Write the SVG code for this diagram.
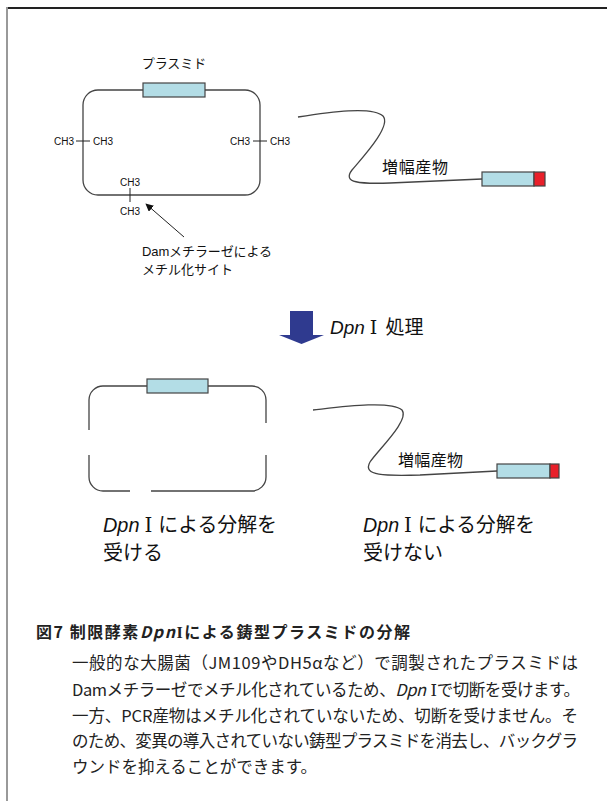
<svg xmlns="http://www.w3.org/2000/svg" width="607" height="801" viewBox="0 0 607 801">
<defs>
<style>
.t{font-family:"Liberation Sans","Noto Sans CJK JP",sans-serif;fill:#111}
.ch{font-size:10px}
.wire{fill:none;stroke:#444;stroke-width:1.3}
.ins{fill:#b3dde6;stroke:#444;stroke-width:1.2}
.red{fill:#e8202a;stroke:#444;stroke-width:1.2}
.body{font-family:"Noto Sans CJK JP","Liberation Sans",sans-serif;font-size:16.5px;fill:#222}
.rn{font-family:"DejaVu Serif","Liberation Serif",serif;font-style:normal}
</style>
<marker id="ah" viewBox="0 0 10 10" refX="9" refY="5" markerWidth="8" markerHeight="8" orient="auto" markerUnits="userSpaceOnUse">
<path d="M0,0 L10,5 L0,10 z" fill="#111"/>
</marker>
</defs>
<rect width="607" height="801" fill="#fff"/>
<line x1="6" y1="8" x2="607" y2="8" stroke="#222" stroke-width="1.8"/>
<line x1="7" y1="7" x2="7" y2="801" stroke="#999" stroke-width="2"/>

<g id="plasmid-top">
<rect x="83" y="90" width="177" height="105" rx="15" class="wire"/>
<rect x="143" y="83" width="62" height="14" class="ins"/>
<text x="174" y="68" text-anchor="middle" class="t" font-size="13">プラスミド</text>
</g>
<g id="methyl-left">
<line x1="76" y1="141" x2="90" y2="141" stroke="#222" stroke-width="1"/>
<text x="74" y="145" text-anchor="end" class="t ch">CH3</text>
<text x="93" y="145" class="t ch">CH3</text>
</g>
<g id="methyl-right">
<line x1="253" y1="141" x2="267" y2="141" stroke="#222" stroke-width="1"/>
<text x="250" y="145" text-anchor="end" class="t ch">CH3</text>
<text x="270" y="145" class="t ch">CH3</text>
</g>
<g id="methyl-bottom">
<line x1="130" y1="188" x2="130" y2="202" stroke="#222" stroke-width="1"/>
<text x="130" y="186" text-anchor="middle" class="t ch">CH3</text>
<text x="130" y="215" text-anchor="middle" class="t ch">CH3</text>
</g>
<g id="dam-label">
<text x="142" y="256" class="t" font-size="13" textLength="130">Damメチラーゼによる</text>
<text x="142" y="274" class="t" font-size="13">メチル化サイト</text>
</g>

<g id="pcr-top">
<rect x="482" y="172" width="52" height="14" class="ins"/>
<rect x="534" y="172" width="11" height="14" class="red"/>
<text x="382" y="173" class="t" font-size="16" textLength="66">増幅産物</text>
</g>

<g id="dpn-step">
<polygon points="290,311 313,311 313,335 324,335 301.5,344 279,335 290,335" fill="#2f3a8f"/>
<text x="330" y="334" class="t" font-size="19"><tspan font-style="italic">Dpn</tspan><tspan dx="5" class="rn">Ⅰ</tspan><tspan dx="8">処理</tspan></text>
</g>

<g id="plasmid-bottom">
<path class="wire" d="M151,491 H252 A14,14 0 0 0 266,477 V455 M266,423 V400 A14,14 0 0 0 252,386 H103 A14,14 0 0 0 89,400 V430 M89,455 V477 A14,14 0 0 0 103,491 H130"/>
<rect x="147" y="379" width="61" height="14" class="ins"/>
</g>

<g id="pcr-bottom">
<rect x="497" y="464" width="53" height="14" class="ins"/>
<rect x="550" y="464" width="9" height="14" class="red"/>
<text x="398" y="466" class="t" font-size="16" textLength="65">増幅産物</text>
</g>

<g id="label-cut">
<text x="103" y="532" class="t" font-size="20" textLength="174" lengthAdjust="spacingAndGlyphs"><tspan font-style="italic">Dpn</tspan><tspan class="rn" dx="5">Ⅰ</tspan><tspan dx="6">による分解を</tspan></text>
<text x="103" y="560" class="t" font-size="20">受ける</text>
</g>
<g id="label-uncut">
<text x="363" y="532" class="t" font-size="20" textLength="172" lengthAdjust="spacingAndGlyphs"><tspan font-style="italic">Dpn</tspan><tspan class="rn" dx="5">Ⅰ</tspan><tspan dx="6">による分解を</tspan></text>
<text x="363" y="560" class="t" font-size="20">受けない</text>
</g>

<g id="connectors">
<path class="wire" d="M298,117 C330,112 372,106 383,116 C392,126 362,158 352,170 C342,183 360,184 390,183 L482,179"/>
<path class="wire" d="M313,410 C340,407 390,400 402,410 C410,420 378,450 370,462 C362,476 385,476 420,475 L497,471"/>
<line x1="184" y1="237" x2="146" y2="204" stroke="#222" stroke-width="1" marker-end="url(#ah)"/>
</g>

<g id="caption">
<text x="36" y="638" font-family="'Noto Sans CJK JP','Liberation Sans',sans-serif" font-size="16" font-weight="bold" fill="#222" textLength="374">図7  制限酵素<tspan font-style="italic">Dpn</tspan><tspan font-family="'Liberation Serif',serif">I</tspan>による鋳型プラスミドの分解</text>
<text x="72" y="669" class="body" textLength="506">一般的な大腸菌（JM109やDH5αなど）で調製されたプラスミドは</text>
<text x="72" y="696" class="body" textLength="508">Damメチラーゼでメチル化されているため、<tspan font-style="italic">Dpn</tspan><tspan class="rn" dx="5">Ⅰ</tspan>で切断を受けます。</text>
<text x="72" y="722" class="body" textLength="506">一方、PCR産物はメチル化されていないため、切断を受けません。そ</text>
<text x="72" y="747" class="body" textLength="506">のため、変異の導入されていない鋳型プラスミドを消去し、バックグラ</text>
<text x="72" y="773" class="body" textLength="245">ウンドを抑えることができます。</text>
</g>
</svg>
